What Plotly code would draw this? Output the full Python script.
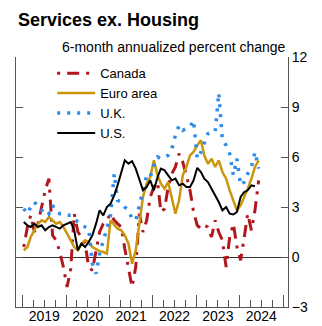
import pandas as pd
import plotly.graph_objects as go

# Monthly observations, Jan 2019 onward
months = pd.date_range("2019-01-01", periods=66, freq="MS") + pd.Timedelta(days=9)

canada = [0.6, 1.8, 2.5, 1.5, 2.0, 3.0, 4.0, 4.7, 1.3, 1.0, 0.3, -0.6,
          -1.8, -0.7, 2.6, 1.5, 1.2, 0.8, -0.6, -0.8, 0.5, 1.5, 2.0, 2.2,
          2.6, 2.2, 2.0, 1.8, 0.5, -0.7, -1.8, -0.6, 2.6, 1.5, 2.2, 3.6,
          4.2, 4.5, 2.7, 2.9, 4.2, 5.0, 5.4, 6.2, 5.7, 4.9, 4.0, 2.7,
          1.9, 1.7, 1.9, 1.8, 1.2, 2.2, 1.5, 1.0, -0.6, 1.2, 2.0, 0.6,
          -0.2, 1.2, 2.6, 1.6, 2.8, 4.6]

euro = [0.4, 0.6, 1.2, 1.6, 2.0, 2.2, 2.1, 2.4, 2.2, 2.0, 2.1, 1.8,
        1.4, 1.0, 0.6, 0.4, 0.8, 1.0, 0.9, 0.6, 0.45, 0.35, 0.3, 0.2,
        2.2, 1.9, 1.7, 1.6, 1.3, 0.8, -0.4, 0.4, 2.0, 3.6, 4.4, 4.8,
        5.8, 4.9, 4.4, 4.1, 4.5, 3.6, 2.6, 3.4, 4.9, 5.4, 6.1, 6.3,
        6.7, 7.0, 6.1, 5.6, 5.9, 5.4, 5.8, 5.1, 4.7, 4.0, 3.4, 2.8,
        3.1, 3.6, 4.1, 4.7, 5.4, 5.8]

uk = [2.9, 2.6, 3.0, 3.3, 3.0, 2.8, 2.9, 2.6, 3.1, 2.7, 2.6, 2.6,
      2.5, 2.5, 2.3, 2.1, 1.9, 1.8, 1.7, -0.4, -1.0, 0.2, 1.0, 1.6,
      2.5, 5.0, 3.4, 3.3, 3.0, 2.8, 2.3, 2.2, 3.1, 3.8, 4.9, 4.8,
      5.5, 6.0, 5.9, 6.0, 6.1, 6.5, 7.3, 7.9, 7.6, 7.7, 7.8, 8.2,
      5.9, 6.3, 6.9, 7.4, 7.5, 7.5, 9.85, 7.0, 6.7, 6.2, 4.9, 5.9,
      4.3, 4.5, 5.0, 5.4, 6.3, 5.3]

us = [2.1, 1.9, 1.8, 2.0, 1.8, 1.9, 1.6, 1.8, 1.9, 1.8, 1.7, 1.9,
      2.0, 2.1, 1.6, 0.4, 0.8, 0.6, 0.9, 1.3, 2.0, 2.8, 2.5, 3.0,
      3.2, 3.7, 4.3, 5.0, 5.8, 5.6, 5.75, 5.3, 4.6, 4.0, 4.2, 4.6,
      4.0, 4.8, 5.3, 5.2, 4.9, 4.6, 4.7, 4.3, 4.4, 4.2, 4.2, 4.6,
      5.35, 5.1, 4.7, 4.5, 4.1, 3.7, 3.3, 2.8, 3.0, 2.6, 2.55, 2.7,
      3.6, 3.9, 4.0, 4.3, 4.25]

y_ticks = [-3, 0, 3, 6, 9, 12]

FONT = "Liberation Sans, Arial, sans-serif"
AX = "#555555"

fig = go.Figure()
fig.add_trace(go.Scatter(x=months, y=canada, name="Canada", mode="lines",
                         line=dict(color="#B0171F", width=3, dash="3px,7px,12px,7px")))
fig.add_trace(go.Scatter(x=months, y=euro, name="Euro area", mode="lines",
                         line=dict(color="#C9960C", width=2.5)))
fig.add_trace(go.Scatter(x=months, y=uk, name="U.K.", mode="lines",
                         line=dict(color="#2B8CEB", width=3.5, dash="3px,7px")))
fig.add_trace(go.Scatter(x=months[:len(us)], y=us, name="U.S.", mode="lines",
                         line=dict(color="#000000", width=2)))

fig.update_layout(
    width=322, height=326,
    margin=dict(l=16, r=34, t=57, b=19),
    paper_bgcolor="white", plot_bgcolor="white",
    font=dict(family=FONT, size=14, color="black"),
    showlegend=True,
    legend=dict(x=0.133, y=0.995, xanchor="left", yanchor="top",
                bgcolor="rgba(0,0,0,0)", font=dict(size=13),
                itemwidth=38, tracegroupgap=0),
    xaxis=dict(
        range=["2018-11-06", "2025-02-12"], automargin=False,
        type="date", tick0="2019-01-01", dtick="M12",
        ticklabelmode="period", tickformat="%Y",
        ticks="inside", ticklen=12, tickcolor=AX, tickwidth=1,
        ticklabelstandoff=-4,
        minor=dict(dtick="M3", tick0="2019-01-01", ticks="inside",
                   ticklen=7, tickcolor=AX, tickwidth=1, showgrid=False),
        showline=True, linecolor=AX, linewidth=1, mirror=False,
        showgrid=False, zeroline=False,
        tickfont=dict(size=14),
    ),
    yaxis=dict(
        range=[-3, 12], tickvals=y_ticks, side="right", automargin=False,
        ticks="inside", ticklen=7, tickcolor=AX, tickwidth=1,
        showline=True, linecolor=AX, linewidth=1, mirror="ticks",
        showgrid=False, zeroline=True, zerolinecolor="#333333", zerolinewidth=1,
        tickfont=dict(size=14),
    ),
)

fig.add_annotation(text="<b>Services ex. Housing</b>", xref="paper", yref="paper",
                   x=0, y=1.147, xanchor="left", yanchor="middle", showarrow=False,
                   font=dict(size=18, family=FONT))
fig.add_annotation(text="6-month annualized percent change", xref="paper", yref="paper",
                   x=1, y=1.038, xanchor="right", yanchor="middle", showarrow=False,
                   font=dict(size=14, family=FONT))

fig.write_html("out.html")
